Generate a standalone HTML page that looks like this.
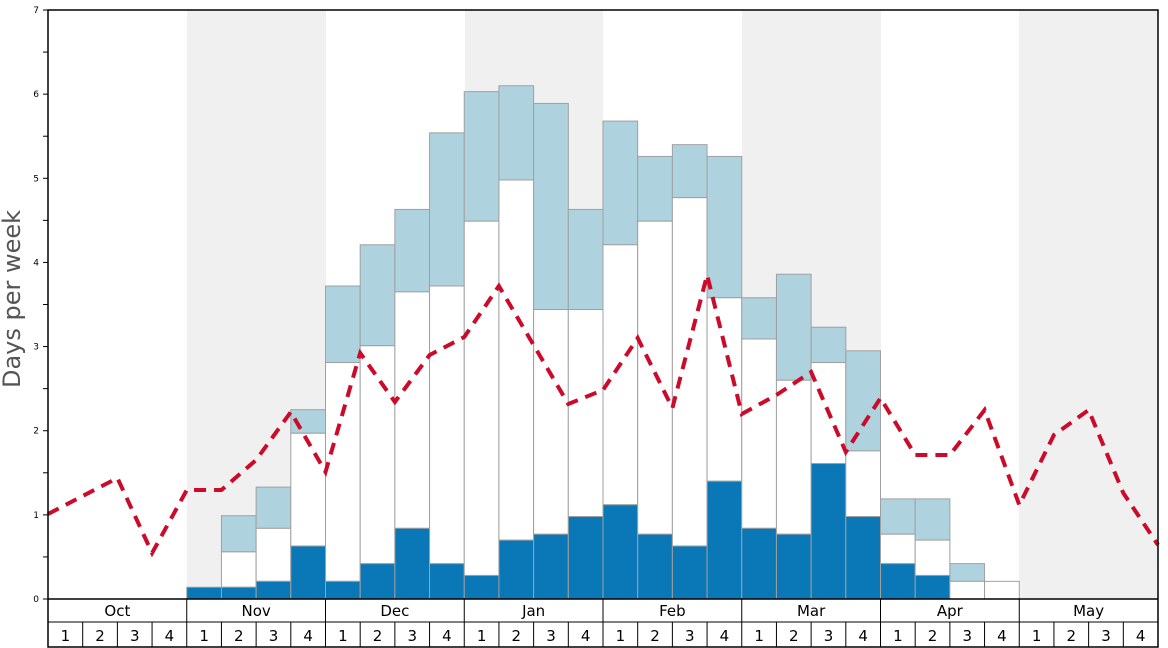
<!DOCTYPE html>
<html><head><meta charset="utf-8"><style>
html,body{margin:0;padding:0;background:#fff}
svg{display:block;font-family:"DejaVu Sans","Liberation Sans",sans-serif}
</style></head><body>
<svg id="s" width="1168" height="648" viewBox="0 0 1168 648" xmlns="http://www.w3.org/2000/svg">
<rect x="187" y="10" width="139" height="589" fill="#f0f0f0"/>
<rect x="465" y="10" width="138" height="589" fill="#f0f0f0"/>
<rect x="742" y="10" width="139" height="589" fill="#f0f0f0"/>
<rect x="1019" y="10" width="139" height="589" fill="#f0f0f0"/>
<g id="bars" stroke="#a0a0a0" stroke-width="1"></g>
<polyline id="line" fill="none" stroke="#cc0a2a" stroke-width="4" stroke-dasharray="12,8" points=""/>
<rect x="48" y="10" width="1110" height="637" fill="none" stroke="#000" stroke-width="1.5"/>
<line x1="48" y1="599" x2="1158" y2="599" stroke="#000" stroke-width="1.5"/>
<line x1="48" y1="622" x2="1158" y2="622" stroke="#000" stroke-width="1"/>
<g id="axes" font-size="15" fill="#000"></g>
<g id="yt" font-size="9" fill="#000"></g>
<text x="19" y="305" font-size="24" fill="#555" text-anchor="middle" dominant-baseline="middle" transform="rotate(-90 13 305)">Days per week</text>
</svg>
<script>
var ns="http://www.w3.org/2000/svg";
function el(p,t,a,txt){var e=document.createElementNS(ns,t);for(var k in a)e.setAttribute(k,a[k]);if(txt!=null)e.textContent=txt;p.appendChild(e);return e;}
var X0=48,W=1110/32,Y0=599,U=84.14;
function y(v){return Y0-v*U;}
var data={4:[0.14,0.14,0.14],5:[0.14,0.56,0.99],6:[0.21,0.84,1.33],7:[0.63,1.97,2.25],8:[0.21,2.81,3.72],9:[0.42,3.01,4.21],10:[0.84,3.65,4.63],11:[0.42,3.72,5.54],12:[0.28,4.49,6.03],13:[0.70,4.98,6.10],14:[0.77,3.44,5.89],15:[0.98,3.44,4.63],16:[1.12,4.21,5.68],17:[0.77,4.49,5.26],18:[0.63,4.77,5.40],19:[1.40,3.58,5.26],20:[0.84,3.09,3.58],21:[0.77,2.60,3.86],22:[1.61,2.81,3.23],23:[0.98,1.76,2.95],24:[0.42,0.77,1.19],25:[0.28,0.70,1.19],26:[0,0.21,0.42],27:[0,0.21,0.21]};
var g=document.getElementById("bars");
for(var i in data){var d=data[i],x=X0+i*W;
 if(d[2]>d[1])el(g,"rect",{x:x,y:y(d[2]),width:W,height:(d[2]-d[1])*U,fill:"#aed3df"});
 if(d[1]>d[0])el(g,"rect",{x:x,y:y(d[1]),width:W,height:(d[1]-d[0])*U,fill:"#fff"});
 if(d[0]>0)el(g,"rect",{x:x,y:y(d[0]),width:W,height:d[0]*U,fill:"#0a77b6"});
}
var ly=[514,496,478,553,490,490,460,412,472,353,402,355,337,286,345,404,390,338,408,275,414,395,372,452,398,455,455,410,505,435,410,493,545];
var pts=ly.map(function(v,i){return (X0+i*W).toFixed(1)+","+v;}).join(" ");
document.getElementById("line").setAttribute("points",pts);
var a=document.getElementById("axes");
var m=["Oct","Nov","Dec","Jan","Feb","Mar","Apr","May"];
for(var j=0;j<8;j++){var mx=X0+j*4*W;
 if(j>0)el(a,"line",{x1:mx,y1:599,x2:mx,y2:647,stroke:"#000","stroke-width":1});
 el(a,"text",{x:mx+2*W,y:616,"text-anchor":"middle"},m[j]);
 for(var k=0;k<4;k++){var wx=mx+k*W;
  if(k>0)el(a,"line",{x1:wx,y1:622,x2:wx,y2:647,stroke:"#000","stroke-width":1});
  el(a,"text",{x:wx+W/2,y:641,"text-anchor":"middle"},""+(k+1));}
}
var t=document.getElementById("yt");
for(var v=0;v<=7;v+=0.5){var yy=y(v);
 el(t,"line",{x1:43,y1:yy,x2:48,y2:yy,stroke:"#000","stroke-width":1});
 if(v%1==0)el(t,"text",{x:39,y:yy+3,"text-anchor":"end"},""+v);}
</script>
</body></html>
